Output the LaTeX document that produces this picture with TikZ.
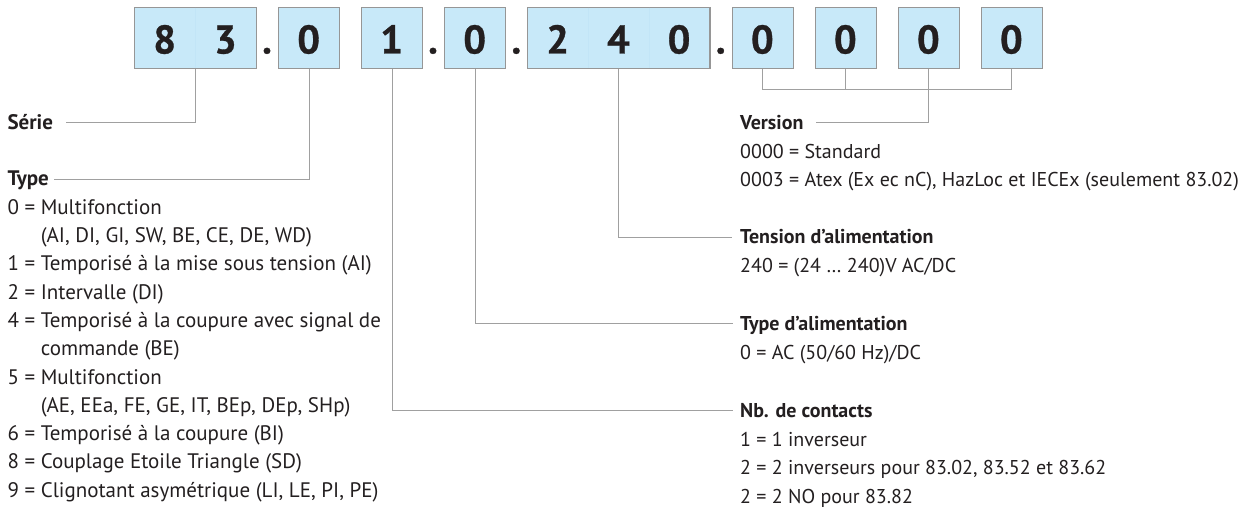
\documentclass[tikz,border=0pt]{standalone}
\usepackage{fontspec}
\setmainfont{PT Sans}
\newfontface\codefont{PT Sans Bold}[FakeBold=0.8]
\definecolor{cellfill}{RGB}{200,233,249}
\definecolor{cellrule}{RGB}{150,150,150}
\definecolor{splitline}{RGB}{194,229,247}
\definecolor{leadgray}{RGB}{160,160,160}
\definecolor{ink}{RGB}{35,31,32}

\begin{document}
\begin{tikzpicture}[x=1pt,y=-1pt,
  cell/.style={draw=cellrule, line width=1.1pt, fill=cellfill,
               minimum height=61pt, inner sep=0pt, anchor=north west},
  digit/.style={text=ink, font=\codefont\fontsize{40}{42}\selectfont,
                inner sep=0pt, anchor=base},
  head/.style={text=ink, font=\fontsize{21}{24}\selectfont\bfseries,
               inner sep=0pt, anchor=base west},
  entry/.style={text=ink, font=\fontsize{21}{24}\selectfont,
                inner sep=0pt, anchor=base west},
  rhead/.style={head, font=\fontsize{20}{24}\selectfont\bfseries},
  rentry/.style={entry, font=\fontsize{20}{24}\selectfont},
  leader/.style={draw=leadgray, line width=1pt},
  split/.style={draw=splitline, line width=0.25pt}]

\useasboundingbox (0,0) rectangle (1255,510);

% ---- code boxes: 83.0 1.0.240.0 0 0 0 ----
\node[cell, minimum width=121.4pt] (b1) at (134.3,7) {};
\node[cell, minimum width=60.7pt]  (b2) at (278.3,7) {};
\node[cell, minimum width=60.7pt]  (b3) at (361.3,7) {};
\node[cell, minimum width=60.7pt]  (b4) at (444.3,7) {};
\node[cell, minimum width=182.1pt] (b5) at (527.3,7) {};
\node[cell, minimum width=60.7pt]  (b6) at (732,7) {};
\node[cell, minimum width=60.7pt]  (b7) at (815,7) {};
\node[cell, minimum width=60.7pt]  (b8) at (898,7) {};
\node[cell, minimum width=60.7pt]  (b9) at (981,7) {};

% faint cell splits inside the multi-digit boxes
\draw[split] ([yshift=-0.6pt]b1.north) -- ([yshift=0.6pt]b1.south);
\draw[split] ([xshift=60.7pt,yshift=-0.6pt]b5.north west) -- ([xshift=60.7pt,yshift=0.6pt]b5.south west);
\draw[split] ([xshift=121.4pt,yshift=-0.6pt]b5.north west) -- ([xshift=121.4pt,yshift=0.6pt]b5.south west);

% digits
\node[digit] (d1)  at (164.65,53.5) {8};
\node[digit] (d2)  at (225.35,53.5) {3};
\node[digit] (d3)  at (308.65,53.5) {0};
\node[digit] (d4)  at (391.65,53.5) {1};
\node[digit] (d5)  at (474.65,53.5) {0};
\node[digit] (d6)  at (557.65,53.5) {2};
\node[digit] (d7)  at (618.35,53.5) {4};
\node[digit] (d8)  at (679.05,53.5) {0};
\node[digit] (d9)  at (762.35,53.5) {0};
\node[digit] (d10) at (845.35,53.5) {0};
\node[digit] (d11) at (928.35,53.5) {0};
\node[digit] (d12) at (1011.35,53.5) {0};

% separating points
\node[digit] (p1) at (267,53.5) {.};
\node[digit] (p2) at (433,53.5) {.};
\node[digit] (p3) at (516.3,53.5) {.};
\node[digit] (p4) at (720.7,53.5) {.};

% ---- left column ----
\node[head]  (serie) at (7.3,129.3) {Série};
\node[head]  (type)  at (7.3,185.9) {Type};
\node[entry] (t0)  at (7.3,214.2) {0 = Multifonction};
\node[entry] (t0b) at (7.3,242.5) {\hphantom{0 = }(AI, DI, GI, SW, BE, CE, DE, WD)};
\node[entry] (t1)  at (7.3,270.8) {1 = Temporisé à la mise sous tension (AI)};
\node[entry] (t2)  at (7.3,299.1) {2 = Intervalle (DI)};
\node[entry] (t4)  at (7.3,327.4) {4 = Temporisé à la coupure avec signal de};
\node[entry] (t4b) at (7.3,355.7) {\hphantom{4 = }commande (BE)};
\node[entry] (t5)  at (7.3,384.0) {5 = Multifonction};
\node[entry] (t5b) at (7.3,412.3) {\hphantom{5 = }(AE, EEa, FE, GE, IT, BEp, DEp, SHp)};
\node[entry] (t6)  at (7.3,440.6) {6 = Temporisé à la coupure (BI)};
\node[entry] (t8)  at (7.3,468.9) {8 = Couplage Etoile Triangle (SD)};
\node[entry] (t9)  at (7.3,497.2) {9 = Clignotant asymétrique (LI, LE, PI, PE)};

% ---- right column ----
\node[rhead]  (version) at (740,129.5) {Version};
\node[rentry] (v0) at (740,158.25) {0000 = Standard};
\node[rentry] (v3) at (740,187.0) {0003 = Atex (Ex ec nC), HazLoc et IECEx (seulement 83.02)};
\node[rhead]  (tension) at (740,244.0) {Tension d’alimentation};
\node[rentry] (u0) at (740,272.75) {240 = (24 … 240)V AC/DC};
\node[rhead]  (alim) at (740,330.5) {Type d’alimentation};
\node[rentry] (a0) at (740,359.25) {0 = AC (50/60 Hz)/DC};
\node[rhead]  (nb) at (740,417.3) {Nb. de contacts};
\node[rentry] (n1) at (740,446.0) {1 = 1 inverseur};
\node[rentry] (n2) at (740,474.75) {2 = 2 inverseurs pour 83.02, 83.52 et 83.62};
\node[rentry] (n3) at (740,503.0) {2 = 2 NO pour 83.82};

% ---- leader line ends ----
\coordinate (serieEnd) at ([shift={(13,-6.8)}]serie.base east);
\coordinate (typeEnd)  at ([shift={(5,-6.8)}]type.base east);
\coordinate (verEnd)   at ([shift={(12,-6.5)}]version.base east);
\coordinate (tenEnd)   at ([shift={(-8,-6.5)}]tension.base west);
\coordinate (alimEnd)  at ([shift={(-7,-6.5)}]alim.base west);
\coordinate (nbEnd)    at ([shift={(-7,-6.5)}]nb.base west);
\coordinate (lvl) at (0,90);

% ---- leader lines ----
\draw[leader] (b1.south) |- (serieEnd);
\draw[leader] (b2.south) |- (typeEnd);
\draw[leader] (b3.south) |- (nbEnd);
\draw[leader] (b4.south) |- (alimEnd);
\draw[leader] (b5.south) |- (tenEnd);
\draw[leader] (b6.south) -- (b6.south |- lvl) -- (b9.south |- lvl) -- (b9.south);
\draw[leader] (b7.south) -- (b7.south |- lvl);
\draw[leader] (b8.south) |- (verEnd);
\end{tikzpicture}
\end{document}
